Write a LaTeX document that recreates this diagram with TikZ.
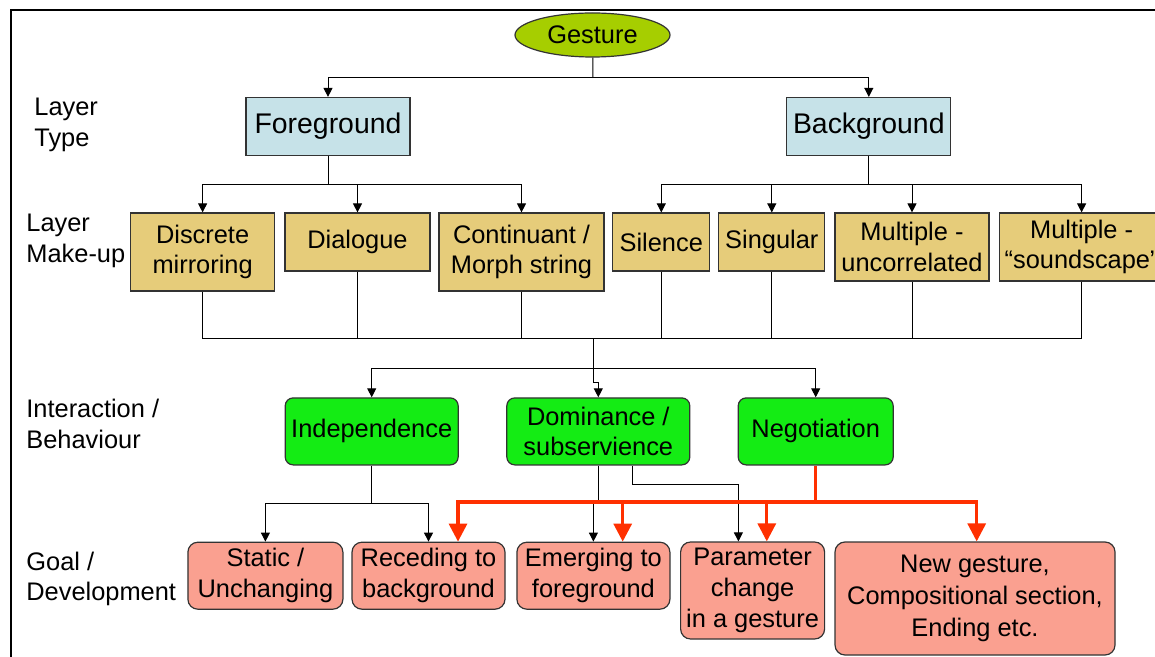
\documentclass[tikz,border=0pt]{standalone}
\usepackage{fontspec}
\setmainfont{Liberation Sans}
\usetikzlibrary{shapes.geometric,arrows.meta}
\definecolor{gestgreen}{RGB}{166,206,0}
\definecolor{typeblue}{RGB}{198,226,232}
\definecolor{makeuptan}{RGB}{230,204,122}
\definecolor{behavgreen}{RGB}{20,236,20}
\definecolor{goalpink}{RGB}{250,160,144}
\definecolor{linkred}{RGB}{255,48,0}
\tikzset{
  box/.style={draw=black!80, line width=0.6pt, inner sep=0pt, align=center, font=\fontsize{12.7}{15.4}\selectfont},
  typebox/.style={box, fill=typeblue, font=\fontsize{14.2}{17}\selectfont},
  makeupbox/.style={box, fill=makeuptan},
  behavbox/.style={box, fill=behavgreen, rounded corners=4pt},
  goalbox/.style={box, fill=goalpink, rounded corners=5pt},
  tier/.style={anchor=west, align=left, inner sep=0pt, font=\fontsize{12.7}{15.4}\selectfont},
  wire/.style={line width=0.5pt},
  link/.style={wire, -{Triangle[width=4.5pt,length=4.5pt]}},
  redlink/.style={linkred, line width=1.6pt, -{Triangle[width=9pt,length=9pt]}},
}

\begin{document}
\begin{tikzpicture}[x=0.5pt, y=-0.5pt]
        \clip (0,0) rectangle (1155,657);
        \fill[white] (0,0) rectangle (1155,657);
        \draw[line width=1pt] (10.5,657) -- (10.5,10) -- (1155,10);

        %row labels
        \node[tier] (ltype) at (34,125) {Layer\\Type};
        \node[tier] (lmake) at (26,241) {Layer\\Make-up};
        \node[tier] (linter) at (26,424) {Interaction /\\Behaviour};
        \node[tier] (lgoal) at (26,579) {Goal /\\Development};

        \node[ellipse, draw=black!80, line width=0.6pt, fill=gestgreen, minimum width=77.5pt, minimum height=22pt, inner sep=0pt, font=\fontsize{12.7}{15}\selectfont] (gesture) at (592.5,35) {Gesture};

        %layer type
        \node[typebox, minimum width=82pt, minimum height=29pt] (fg) at (328,126.5) {Foreground};
        \node[typebox, minimum width=82pt, minimum height=29pt] (bg) at (868.8,126.5) {Background};

        %layer make-up
        \node[makeupbox, minimum width=72pt, minimum height=39pt] (discrete) at (202.6,252) {Discrete\\mirroring};
        \node[makeupbox, minimum width=72.5pt, minimum height=29pt] (dialogue) at (357.5,242) {Dialogue};
        \node[makeupbox, minimum width=82.5pt, minimum height=39pt] (continuant) at (521.5,252) {Continuant /\\Morph string};
        \node[makeupbox, minimum width=48.5pt, minimum height=29pt] (silence) at (661.3,242) {Silence};
        \node[makeupbox, minimum width=53pt, minimum height=29pt] (singular) at (771.8,242) {Singular};
        \node[makeupbox, minimum width=77pt, minimum height=34pt] (uncorr) at (912,247) {Multiple -\\uncorrelated};
        \node[makeupbox, minimum width=82.5pt, minimum height=34pt] (soundscape) at (1081.6,247) {Multiple -\\“soundscape”};

        %interaction / behaviour
        \node[behavbox, minimum width=86.5pt, minimum height=33.5pt] (indep) at (371.7,431.4) {Independence};
        \node[behavbox, minimum width=91.5pt, minimum height=33.5pt] (domin) at (598.3,431.4) {Dominance /\\subservience};
        \node[behavbox, minimum width=77.5pt, minimum height=33.5pt] (negot) at (815.7,431.4) {Negotiation};

        %goal / development
        \node[goalbox, minimum width=77.5pt, minimum height=33.5pt] (static) at (265.4,575.7) {Static /\\Unchanging};
        \node[goalbox, minimum width=76.5pt, minimum height=33.5pt] (receding) at (428.5,575.7) {Receding to\\background};
        \node[goalbox, minimum width=76.5pt, minimum height=33.5pt] (emerging) at (593.4,575.7) {Emerging to\\foreground};
        \node[goalbox, minimum width=72pt, minimum height=48.5pt] (param) at (752.6,590.5) {Parameter\\change\\in a gesture};
        \node[goalbox, minimum width=140pt, minimum height=56.5pt, font=\fontsize{12.7}{16}\selectfont] (newgest) at (975,598.5) {New gesture,\\Compositional section,\\Ending etc.};

        %gesture to layer type
        \coordinate (gj) at (593,78);
        \draw[wire] (gesture) -- (gj);
        \draw[link] (gj) -| (fg);
        \draw[link] (gj) -| (bg);

        %foreground to its make-ups
        \coordinate (fj) at (328,185);
        \draw[wire] (fg) -- (fj);
        \draw[link] (fj) -| (discrete);
        \draw[link] (fj) -| (dialogue);
        \draw[link] (fj) -| (continuant);

        %background to its make-ups
        \coordinate (bj) at (868.8,185);
        \draw[wire] (bg) -- (bj);
        \draw[link] (bj) -| (silence);
        \draw[link] (bj) -| (singular);
        \draw[link] (bj) -| (uncorr);
        \draw[link] (bj) -| (soundscape);

        %make-ups joined
        \coordinate (mj) at (593.5,339);
        \draw[wire] (discrete) |- (mj);
        \draw[wire] (dialogue) |- (mj);
        \draw[wire] (continuant) |- (mj);
        \draw[wire] (silence) |- (mj);
        \draw[wire] (singular) |- (mj);
        \draw[wire] (uncorr) |- (mj);
        \draw[wire] (soundscape) |- (mj);

        %to interaction / behaviour
        \coordinate (ij) at (593.5,368);
        \draw[wire] (mj) -- (ij);
        \draw[link] (ij) -| (indep);
        \draw[link] (ij) -| (negot);
        \draw[link] (ij) -- ++(0,14) -| (domin);

        %independence
        \coordinate (indj) at (371.7,503);
        \draw[wire] (indep) -- (indj);
        \draw[link] (indj) -| (static);
        \draw[link] (indj) -| (receding);

        %dominance
        \coordinate (dj) at (598.3,502);
        \coordinate (dk) at (738.4,484);
        \draw[link] (domin) -- (dj) -| (emerging);
        \draw[link] ([xshift=16.9pt]domin.south) |- (dk) -- (dk |- param.north);

        %negotiation
        \coordinate (nj) at (815.7,502);
        \draw[linkred, line width=1.6pt] (negot) -- (nj);
        \draw[redlink] (nj) -| ([xshift=14.75pt]receding.north);
        \draw[redlink] (nj) -| ([xshift=14.65pt]emerging.north);
        \draw[redlink] (nj) -| ([xshift=7.1pt]param.north);
        \draw[redlink] (nj) -| ([xshift=0.85pt]newgest.north);
\end{tikzpicture}
\end{document}
